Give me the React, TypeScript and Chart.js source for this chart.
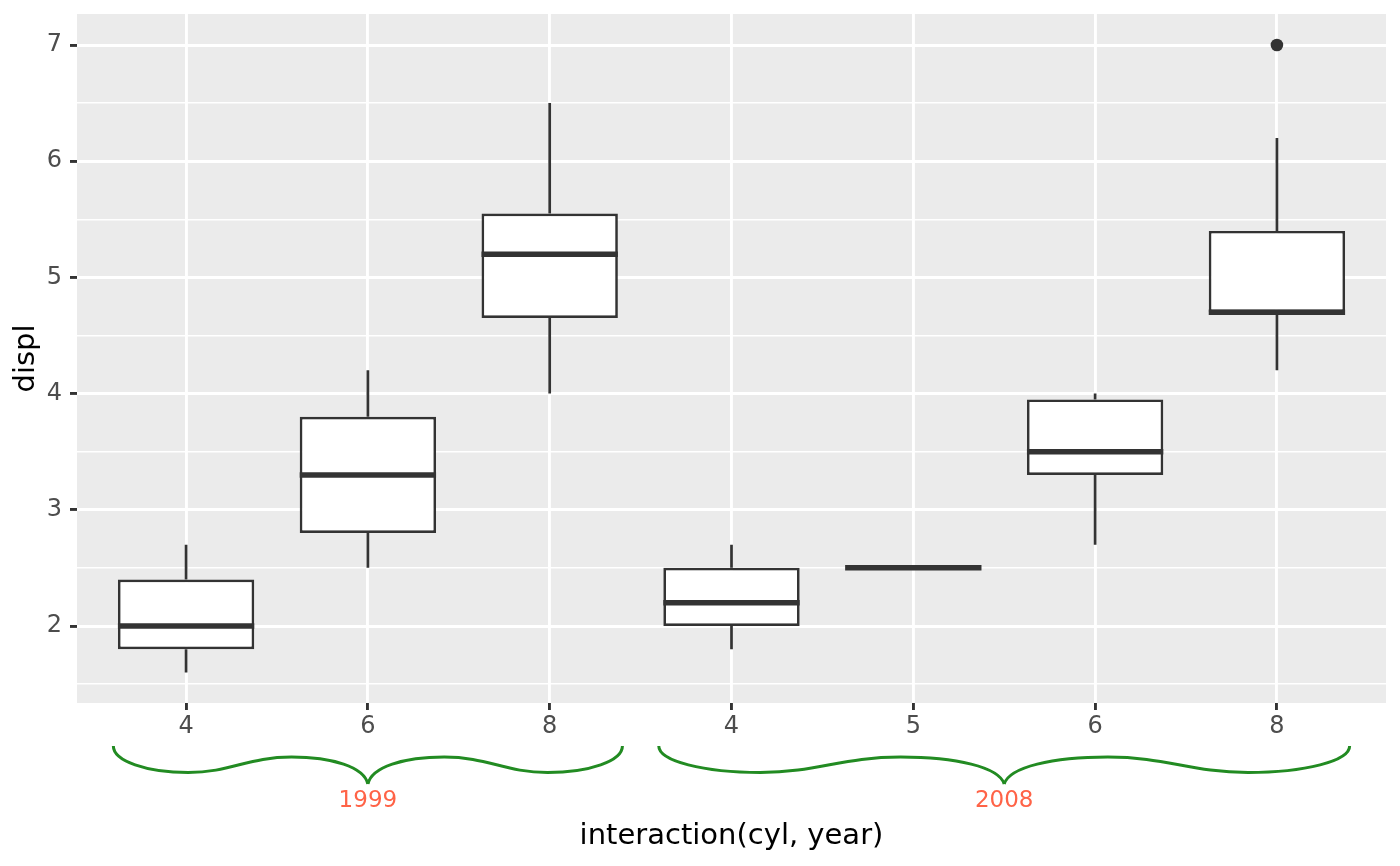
import React, { useEffect, useRef } from "react";
import { Chart, registerables } from "chart.js";

Chart.register(...registerables);

// one box per interaction(cyl, year)
const cylLabels = ["4", "6", "8", "4", "5", "6", "8"];
const yearOf = ["1999", "1999", "1999", "2008", "2008", "2008", "2008"];
const whiskerLow = [1.6, 2.5, 4.0, 1.8, 2.5, 2.7, 4.2];
const lowerQ = [1.8, 2.8, 4.65, 2.0, 2.5, 3.3, 4.7];
const medians = [2.0, 3.3, 5.2, 2.2, 2.5, 3.5, 4.7];
const upperQ = [2.4, 3.8, 5.55, 2.5, 2.5, 3.95, 5.4];
const whiskerHigh = [2.7, 4.2, 6.5, 2.7, 2.5, 4.0, 6.2];
const outlierPos = [7];
const outlierVal = [7.0];
const yTickValues = [1.5, 2, 2.5, 3, 3.5, 4, 4.5, 5, 5.5, 6, 6.5, 7];

const FONT = "'DejaVu Sans', sans-serif";
const INK = "#333333";

const ggPlugin = {
  id: "ggLook",
  beforeDraw(chart: any) {
    const { ctx, chartArea: a } = chart;
    ctx.save();
    ctx.fillStyle = "#EBEBEB";
    ctx.fillRect(a.left, a.top, a.right - a.left, a.bottom - a.top);
    ctx.restore();
  },
  afterDatasetsDraw(chart: any) {
    const { ctx } = chart;
    const xs = chart.scales.x;
    const ys = chart.scales.y;
    const half = Math.abs(xs.getPixelForValue(1.375) - xs.getPixelForValue(1));
    ctx.save();
    ctx.strokeStyle = INK;
    ctx.lineCap = "butt";
    medians.forEach((m, i) => {
      const cx = xs.getPixelForValue(i + 1);
      ctx.lineWidth = 2.7;
      ctx.beginPath();
      ctx.moveTo(cx, ys.getPixelForValue(upperQ[i]));
      ctx.lineTo(cx, ys.getPixelForValue(whiskerHigh[i]));
      ctx.moveTo(cx, ys.getPixelForValue(lowerQ[i]));
      ctx.lineTo(cx, ys.getPixelForValue(whiskerLow[i]));
      ctx.stroke();
      ctx.lineWidth = 5.5;
      ctx.beginPath();
      const my = ys.getPixelForValue(m);
      ctx.moveTo(cx - half, my);
      ctx.lineTo(cx + half, my);
      ctx.stroke();
    });
    ctx.restore();
  },
  afterDraw(chart: any) {
    const { ctx, chartArea } = chart;
    const xs = chart.scales.x;
    const base = chartArea.bottom;
    const groups: string[] = [];
    yearOf.forEach((y) => {
      if (!groups.includes(y)) groups.push(y);
    });
    ctx.save();
    groups.forEach((g) => {
      const idx = yearOf.map((y, i) => (y === g ? i + 1 : -1)).filter((i) => i > 0);
      const x0 = xs.getPixelForValue(Math.min(...idx) - 0.4);
      const x1 = xs.getPixelForValue(Math.max(...idx) + 0.4);
      const mid = (x0 + x1) / 2;
      const hw = mid - x0;
      ctx.strokeStyle = "#228B22";
      ctx.lineWidth = 3;
      ctx.lineJoin = "round";
      [1, -1].forEach((dir) => {
        const xe = dir === 1 ? x0 : x1;
        const px = (t: number) => xe + dir * t * hw;
        const py = (d: number) => base + d;
        ctx.beginPath();
        ctx.moveTo(px(0), py(43));
        ctx.bezierCurveTo(px(0), py(58), px(0.13), py(69.5), px(0.294), py(69.5));
        ctx.bezierCurveTo(px(0.46), py(69.5), px(0.53), py(54), px(0.7), py(54));
        ctx.bezierCurveTo(px(0.86), py(54), px(0.985), py(64), px(1), py(81));
        ctx.stroke();
      });
      ctx.fillStyle = "#FF6347";
      ctx.font = `23px ${FONT}`;
      ctx.textAlign = "center";
      ctx.textBaseline = "middle";
      ctx.fillText(g, mid, base + 98);
    });
    ctx.restore();
  },
};

const App: React.FC = () => {
  const canvasRef = useRef<HTMLCanvasElement>(null!);

  useEffect(() => {
    const chart = new Chart(canvasRef.current, {
      type: "bar",
      data: {
        datasets: [
          {
            type: "bar",
            data: lowerQ.map((v, i) => ({ x: i + 1, y: [v, upperQ[i]] })) as any,
            backgroundColor: "#FFFFFF",
            borderColor: INK,
            borderWidth: 2.7,
            borderSkipped: false,
            barPercentage: 0.75,
            categoryPercentage: 1,
          },
          {
            type: "scatter",
            data: outlierPos.map((p, i) => ({ x: p, y: outlierVal[i] })) as any,
            backgroundColor: INK,
            borderWidth: 0,
            pointRadius: 6.3,
          } as any,
        ],
      },
      options: {
        animation: false,
        responsive: true,
        maintainAspectRatio: false,
        layout: { padding: { top: 14, right: 14, left: 0, bottom: 0 } },
        plugins: { legend: { display: false }, tooltip: { enabled: false } },
        scales: {
          x: {
            type: "linear",
            min: 0.4,
            max: 7.6,
            offset: false,
            afterBuildTicks: (axis: any) => {
              axis.ticks = cylLabels.map((_, i) => ({ value: i + 1 }));
            },
            afterFit: (axis: any) => {
              axis.height = 163;
              axis.paddingLeft = 0;
              axis.paddingRight = 0;
            },
            grid: {
              offset: false,
              color: "#FFFFFF",
              lineWidth: 2.9,
              tickColor: INK,
              tickLength: 7,
              tickWidth: 2.9,
            },
            border: { display: false },
            ticks: {
              autoSkip: false,
              maxRotation: 0,
              padding: 2,
              color: "#4D4D4D",
              font: { family: FONT, size: 24 },
              callback: (v: any) => cylLabels[Number(v) - 1] ?? "",
            },
            title: {
              display: true,
              text: "interaction(cyl, year)",
              color: "#000000",
              font: { family: FONT, size: 29 },
              padding: { top: 0, bottom: 12 },
            },
          },
          y: {
            type: "linear",
            min: 1.337,
            max: 7.267,
            afterBuildTicks: (axis: any) => {
              axis.ticks = yTickValues.map((v) => ({ value: v }));
            },
            afterFit: (axis: any) => {
              axis.width = 77;
              axis.paddingTop = 0;
              axis.paddingBottom = 0;
            },
            grid: {
              color: "#FFFFFF",
              lineWidth: (c: any) => (Number.isInteger(c.tick?.value) ? 2.9 : 1.45),
              tickColor: (c: any) => (Number.isInteger(c.tick?.value) ? INK : "rgba(0,0,0,0)"),
              tickLength: 7,
              tickWidth: 2.9,
            },
            border: { display: false },
            ticks: {
              autoSkip: false,
              padding: 8,
              color: "#4D4D4D",
              font: { family: FONT, size: 24 },
              callback: (v: any) => (Number.isInteger(Number(v)) ? String(v) : ""),
            },
            title: {
              display: true,
              text: "displ",
              color: "#000000",
              font: { family: FONT, size: 29 },
              padding: { top: 9, bottom: 0 },
            },
          },
        },
      } as any,
      plugins: [ggPlugin],
    });
    return () => chart.destroy();
  }, []);

  return (
    <div style={{ position: "fixed", left: 0, top: 0, width: 1400, height: 866, background: "#FFFFFF" }}>
      <canvas ref={canvasRef} />
    </div>
  );
};

export default App;
